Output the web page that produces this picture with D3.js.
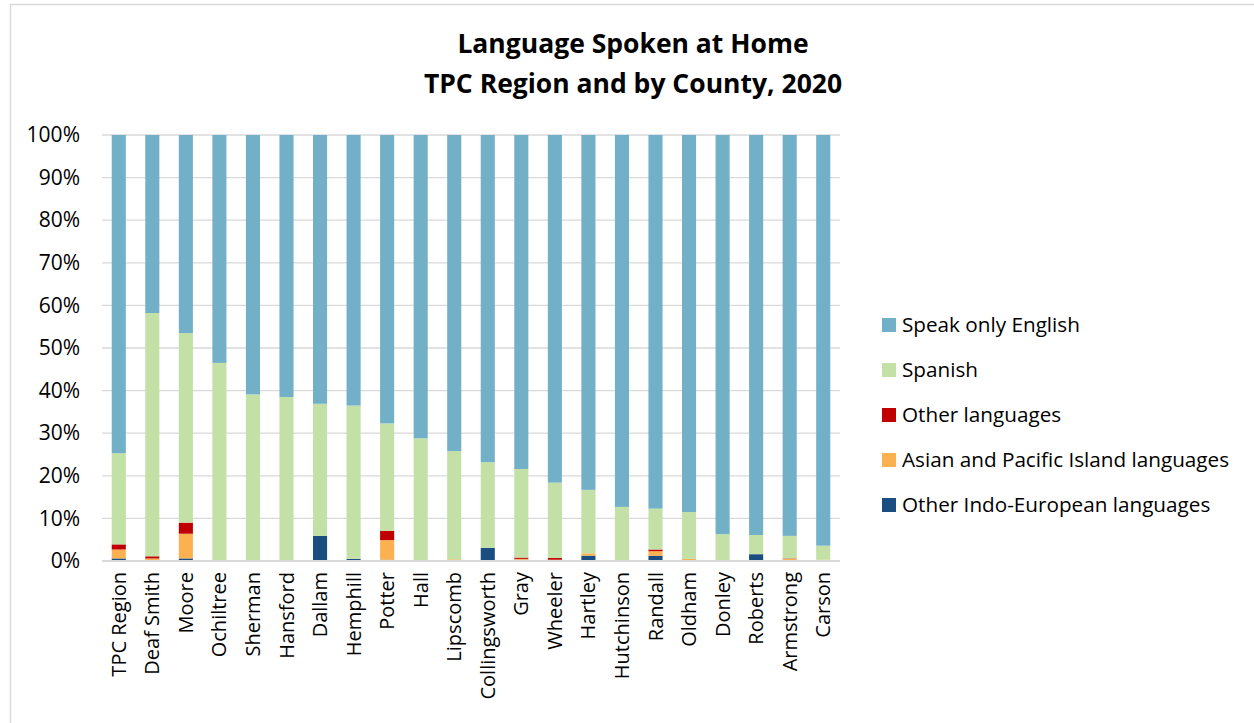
<!DOCTYPE html>
<html>
<head>
<meta charset="utf-8">
<script src="https://cdn.jsdelivr.net/npm/d3@7"></script>
<style>
  html, body { margin: 0; padding: 0; background: #fff; }
  svg { display: block; font-family: "Open Sans", Lato, "Liberation Sans", sans-serif; }
</style>
</head>
<body>
<svg id="chart" width="1254" height="723"></svg>
<script>
// Share of population (age 5+) by language spoken at home, percent
const counties = ["TPC Region", "Deaf Smith", "Moore", "Ochiltree", "Sherman", "Hansford", "Dallam",
  "Hemphill", "Potter", "Hall", "Lipscomb", "Collingsworth", "Gray", "Wheeler", "Hartley",
  "Hutchinson", "Randall", "Oldham", "Donley", "Roberts", "Armstrong", "Carson"];

const otherIndoEuropean = [0.6, 0.1, 0.6, 0, 0, 0, 5.9, 0.5, 0.3, 0, 0.1, 3.1, 0.3, 0.1, 1.25, 0.1, 1.2, 0.1, 0, 1.6, 0, 0.2];
const asianPacific      = [2.1, 0.5, 5.8, 0, 0, 0, 0, 0, 4.6, 0, 0.3, 0, 0.2, 0.2, 0.55, 0.1, 1.1, 0.4, 0.1, 0, 0.5, 0.1];
const otherLanguages    = [1.2, 0.5, 2.6, 0, 0, 0, 0, 0, 2.2, 0, 0, 0, 0.3, 0.4, 0, 0, 0.4, 0, 0, 0, 0.1, 0];
const spanish           = [21.4, 57.1, 44.5, 46.5, 39.1, 38.5, 31.0, 36.0, 25.2, 28.8, 25.4, 20.1, 20.8, 17.7, 14.9, 12.5, 9.6, 11.0, 6.2, 4.5, 5.3, 3.3];
const englishOnly       = [74.7, 41.8, 46.5, 53.5, 60.9, 61.5, 63.1, 63.5, 67.7, 71.2, 74.2, 76.8, 78.4, 81.6, 83.3, 87.3, 87.7, 88.5, 93.7, 93.9, 94.1, 96.4];

const yTicks = [0, 10, 20, 30, 40, 50, 60, 70, 80, 90, 100];

// Stack order, bottom to top
const seriesKeys = ["ie", "asian", "other", "spanish", "english"];
const seriesNames = {
  english: "Speak only English",
  spanish: "Spanish",
  other: "Other languages",
  asian: "Asian and Pacific Island languages",
  ie: "Other Indo-European languages"
};
const seriesColors = {
  english: "#72b0c8",
  spanish: "#c3e0a6",
  other: "#c00000",
  asian: "#fbb150",
  ie: "#1b4e80"
};
const legendOrder = ["english", "spanish", "other", "asian", "ie"];

const rows = counties.map((c, i) => ({
  county: c,
  ie: otherIndoEuropean[i],
  asian: asianPacific[i],
  other: otherLanguages[i],
  spanish: spanish[i],
  english: englishOnly[i]
}));

const svg = d3.select("#chart");

// Outer chart frame
svg.append("rect")
  .attr("x", 10.5).attr("y", 4.5)
  .attr("width", 1250).attr("height", 730)
  .attr("fill", "none").attr("stroke", "#d9d9d9").attr("stroke-width", 1.5);

// Title
const title = svg.append("text")
  .attr("text-anchor", "middle")
  .attr("font-weight", "bold")
  .attr("font-size", 26.5)
  .attr("fill", "#000");
title.append("tspan").attr("x", 633).attr("y", 53).text("Language Spoken at Home");
title.append("tspan").attr("x", 633).attr("y", 93).text("TPC Region and by County, 2020");

const plot = { left: 102, right: 840, top: 135, bottom: 561 };

const x = d3.scaleBand()
  .domain(counties)
  .range([plot.left, plot.right])
  .paddingInner(0.58)
  .paddingOuter(0.29);

const y = d3.scaleLinear()
  .domain([0, 100])
  .range([plot.bottom, plot.top]);

// Horizontal gridlines
svg.append("g")
  .selectAll("line")
  .data(yTicks.filter(t => t > 0))
  .join("line")
  .attr("x1", plot.left).attr("x2", plot.right)
  .attr("y1", d => y(d)).attr("y2", d => y(d))
  .attr("stroke", "#d9d9d9").attr("stroke-width", 1.3);

// Y axis labels
const yAxis = svg.append("g")
  .attr("transform", `translate(${plot.left},0)`)
  .call(d3.axisLeft(y).tickValues(yTicks).tickFormat(d => d + "%").tickSize(0).tickPadding(22));
yAxis.select(".domain").remove();
yAxis.selectAll("text")
  .attr("font-family", "'Open Sans', Lato, sans-serif")
  .attr("font-size", 21)
  .attr("fill", "#000");

// Stacked bars
const stack = d3.stack().keys(seriesKeys);
const stacked = stack(rows);

svg.append("g")
  .selectAll("g")
  .data(stacked)
  .join("g")
  .attr("fill", d => seriesColors[d.key])
  .selectAll("rect")
  .data(d => d)
  .join("rect")
  .attr("x", d => x(d.data.county))
  .attr("width", x.bandwidth())
  .attr("y", d => y(d[1]))
  .attr("height", d => Math.max(0, y(d[0]) - y(d[1])));

// Category axis baseline
svg.append("line")
  .attr("x1", plot.left).attr("x2", plot.right)
  .attr("y1", plot.bottom).attr("y2", plot.bottom)
  .attr("stroke", "#d9d9d9").attr("stroke-width", 2);

// Category labels, rotated
const xAxis = svg.append("g")
  .attr("transform", `translate(0,${plot.bottom})`)
  .call(d3.axisBottom(x).tickSize(0).tickPadding(0));
xAxis.select(".domain").remove();
xAxis.selectAll("text")
  .attr("font-family", "'Open Sans', Lato, sans-serif")
  .attr("font-size", 20)
  .attr("fill", "#000")
  .attr("text-anchor", "end")
  .attr("dy", null)
  .attr("transform", "translate(7,11) rotate(-90)");

// Legend
const legend = svg.append("g")
  .selectAll("g")
  .data(legendOrder)
  .join("g")
  .attr("transform", (d, i) => `translate(882,${325 + i * 45})`);
legend.append("rect")
  .attr("x", 0).attr("y", -7)
  .attr("width", 14).attr("height", 14)
  .attr("fill", d => seriesColors[d]);
legend.append("text")
  .attr("x", 20).attr("y", 0)
  .attr("dy", "0.35em")
  .attr("font-size", 20.7)
  .attr("fill", "#000")
  .text(d => seriesNames[d]);
</script>
</body>
</html>
